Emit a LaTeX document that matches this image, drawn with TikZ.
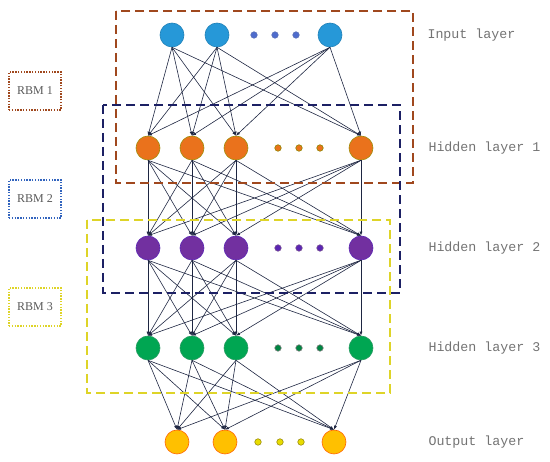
\documentclass[tikz,border=0pt]{standalone}
\usepackage{fontspec}
\setmainfont{Liberation Serif}
\newfontfamily\layerfont{Liberation Mono}
\usetikzlibrary{arrows.meta, positioning}

\definecolor{inblue}{RGB}{38,152,216}
\definecolor{indot}{RGB}{78,108,205}
\definecolor{hidorange}{RGB}{234,114,28}
\definecolor{hidpurple}{RGB}{114,48,160}
\definecolor{hidgreen}{RGB}{0,166,82}
\definecolor{outyellow}{RGB}{255,192,0}
\definecolor{edgecol}{RGB}{30,38,66}
\definecolor{rbmred}{RGB}{160,72,30}
\definecolor{rbmnavy}{RGB}{28,32,100}
\definecolor{rbmyellow}{RGB}{222,212,40}
\definecolor{rbmblue}{RGB}{50,100,190}

\begin{document}
\begin{tikzpicture}[
    x=1pt, y=-1pt,
    unit/.style={circle, minimum size=24pt, inner sep=0pt, line width=0.6pt},
    dotnode/.style={circle, minimum size=6.5pt, inner sep=0pt, line width=0.6pt},
    arr/.style={-{Latex[length=4pt,width=3pt]}, line width=0.6pt, draw=edgecol},
    rbmbox/.style={line width=1.6pt, dash pattern=on 9pt off 5pt},
    rbmlabel/.style={rectangle, line width=1.2pt, dash pattern=on 1.4pt off 1.4pt,
                     minimum width=52pt, minimum height=38pt, inner sep=0pt,
                     font=\fontsize{12}{13}\selectfont, text=black!65},
    layerlabel/.style={anchor=west, font=\layerfont\fontsize{13.3}{14}\selectfont,
                       text=black!55},
]
\useasboundingbox (0,0) rectangle (550,462);

% layers
\foreach \x/\n in {172/1, 217/2, 330/3}
    \node[unit, fill=inblue, draw=inblue!85!black] (i\n) at (\x,35) {};
\foreach \x/\n in {148/1, 192/2, 236/3, 361/4} {
    \node[unit, fill=hidorange, draw=olive!80!hidorange] (a\n) at (\x,148) {};
    \node[unit, fill=hidpurple, draw=hidpurple!80!blue] (b\n) at (\x,248) {};
    \node[unit, fill=hidgreen, draw=hidgreen!70!gray] (c\n) at (\x,348) {};
}
\foreach \x/\n in {177/1, 225/2, 334/3}
    \node[unit, fill=outyellow, draw=orange!80!red] (o\n) at (\x,442) {};

% dots
\foreach \x/\n in {254/1, 275/2, 296/3}
    \node[dotnode, fill=indot, draw=indot!70!gray] (id\n) at (\x,35) {};
\foreach \x/\n in {278/1, 299/2, 320/3} {
    \node[dotnode, fill=hidorange, draw=olive] (ad\n) at (\x,148) {};
    \node[dotnode, fill=hidpurple!80!blue, draw=hidpurple!60!gray] (bd\n) at (\x,248) {};
    \node[dotnode, fill=hidgreen!80!black, draw=gray] (cd\n) at (\x,348) {};
}
\foreach \x/\n in {258/1, 280/2, 301/3}
    \node[dotnode, fill=yellow!80!olive, draw=olive!80!brown] (od\n) at (\x,442) {};

% connections
\foreach \s in {1,2,3}
    \foreach \t in {1,...,4}
        \draw[arr] (i\s.south) -- (a\t.north);
\foreach \s in {1,...,4}
    \foreach \t in {1,...,4} {
        \draw[arr] (a\s.south) -- (b\t.north);
        \draw[arr] (b\s.south) -- (c\t.north);
    }
\foreach \s in {1,...,4}
    \foreach \t in {1,2,3}
        \draw[arr] (c\s.south) -- (o\t.north);

% RBM groups
\draw[rbmbox, draw=rbmred] (116,11) rectangle (413,183);
\draw[rbmbox, draw=rbmnavy] (103,105) rectangle (400,293);
\draw[rbmbox, draw=rbmyellow] (87,220) rectangle (390,393);

\node[rbmlabel, draw=rbmred] (rbm1) at (35,91) {RBM 1};
\node[rbmlabel, draw=rbmblue] (rbm2) at (35,199) {RBM 2};
\node[rbmlabel, draw=rbmyellow] (rbm3) at (35,307) {RBM 3};

% layer names
\node[layerlabel] (lin) at (424,35) {Input layer};
\node[layerlabel] (lh1) at (425,148) {Hidden layer 1};
\node[layerlabel] (lh2) at (425,248) {Hidden layer 2};
\node[layerlabel] (lh3) at (425,348) {Hidden layer 3};
\node[layerlabel] (lout) at (425,442) {Output layer};
\end{tikzpicture}
\end{document}
